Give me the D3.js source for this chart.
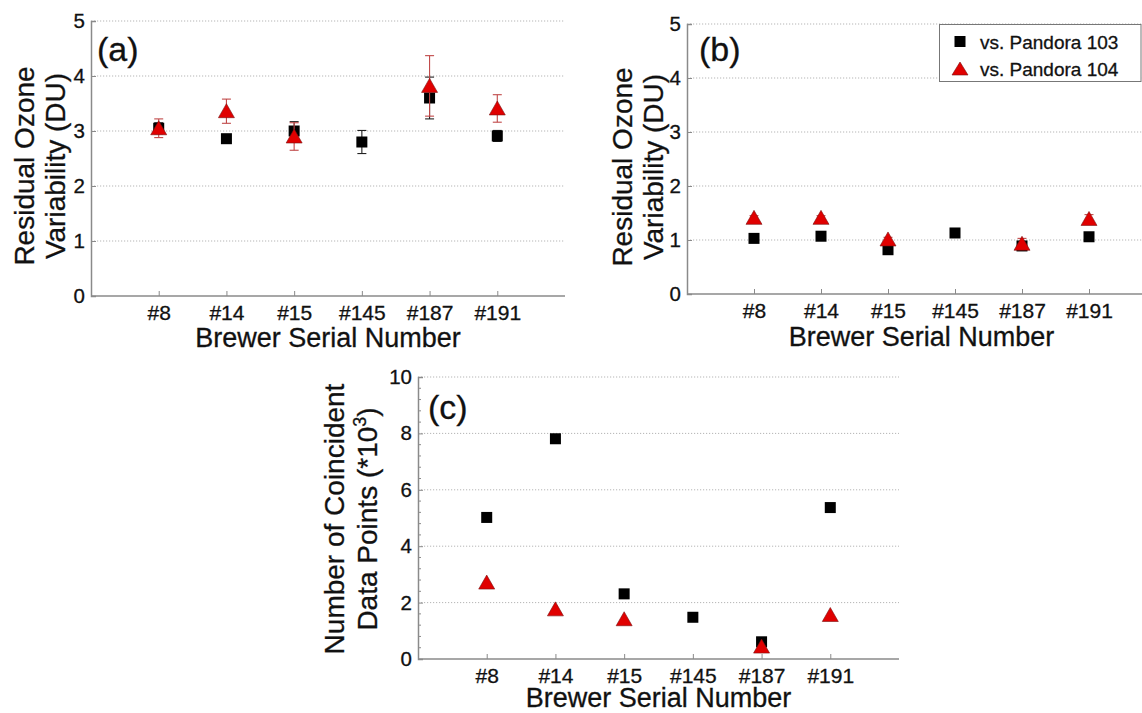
<!DOCTYPE html>
<html>
<head>
<meta charset="utf-8">
<script src="https://cdnjs.cloudflare.com/ajax/libs/d3/7.8.5/d3.min.js"></script>
<style>
html,body{margin:0;padding:0;background:#fff;}
svg{display:block;font-family:"Liberation Sans",Arial,Helvetica,sans-serif;}
svg text{stroke:#111;stroke-width:0.3px;}
</style>
</head>
<body>
<svg id="chart" width="1142" height="713"></svg>
<script>
// ---------- data ----------
const categories = ["#8", "#14", "#15", "#145", "#187", "#191"];
const seriesNames = ["vs. Pandora 103", "vs. Pandora 104"];

// panel (a) residual ozone variability (DU)
const a103 = [3.05, 2.86, 3.00, 2.80, 3.60, 2.91];
const a103Err = [0.10, 0.05, 0.17, 0.21, 0.38, 0.10];
const a104 = [3.05, 3.36, 2.90, null, 3.82, 3.41];
const a104Err = [0.17, 0.22, 0.25, null, 0.55, 0.25];

// panel (b) residual ozone variability (DU)
const b103 = [1.03, 1.07, 0.82, 1.13, 0.89, 1.06];
const b103Err = [0.03, 0.03, 0.03, 0.05, 0.04, 0.03];
const b104 = [1.41, 1.41, 1.01, null, 0.93, 1.39];
const b104Err = [0.04, 0.04, 0.04, null, 0.10, 0.08];

// panel (c) number of coincident data points (*10^3)
const c103 = [5.02, 7.81, 2.31, 1.48, 0.61, 5.37];
const c104 = [2.71, 1.76, 1.41, null, 0.44, 1.56];

const ticksDU = [0, 1, 2, 3, 4, 5];
const ticksN = [0, 2, 4, 6, 8, 10];

// ---------- drawing ----------
const svg = d3.select("#chart");
const AXIS = "#8a8a8a", GRID = "#b5b5b5", TXT = "#111";
const RED = "#e00000", REDERR = "#c04848";

function panel(cfg) {
  const g = svg.append("g");
  const x = d3.scalePoint().domain(categories).range([cfg.x0, cfg.x1]).padding(1);
  const y = d3.scaleLinear().domain(cfg.ydom).range([cfg.y0, cfg.y1]);

  // grid
  g.selectAll(".grid").data(cfg.ticks.filter(t => t !== 0)).join("line")
    .attr("x1", cfg.x0).attr("x2", cfg.x1)
    .attr("y1", d => y(d)).attr("y2", d => y(d))
    .attr("stroke", GRID).attr("stroke-width", 1).attr("stroke-dasharray", "1.2,1.8");

  // minor ticks
  if (cfg.minor) {
    g.selectAll(".minor").data(cfg.minor).join("line")
      .attr("x1", cfg.x0).attr("x2", cfg.x0 + 3)
      .attr("y1", d => y(d)).attr("y2", d => y(d))
      .attr("stroke", AXIS).attr("stroke-width", 1);
  }

  // y axis
  const ya = d3.axisLeft(y).tickValues(cfg.ticks).tickSize(-5).tickPadding(6).tickFormat(d3.format("d"));
  const yg = g.append("g").attr("transform", `translate(${cfg.x0},0)`).call(ya);
  yg.select(".domain").attr("stroke", AXIS).attr("stroke-width", 1.5);
  yg.selectAll(".tick line").attr("stroke", AXIS);
  yg.selectAll("text").attr("font-size", 20.5).attr("fill", TXT)
    .attr("font-family", "Liberation Sans, Arial, sans-serif");

  // x axis
  const xa = d3.axisBottom(x).tickSize(-5).tickPadding(9);
  const xg = g.append("g").attr("transform", `translate(0,${cfg.y0})`).call(xa);
  xg.select(".domain").attr("stroke", AXIS).attr("stroke-width", 1.5)
    .attr("d", `M${cfg.x0},0H${cfg.x1}`);
  xg.selectAll(".tick line").attr("stroke", AXIS);
  xg.selectAll("text").attr("font-size", 21).attr("fill", TXT)
    .attr("font-family", "Liberation Sans, Arial, sans-serif");

  // x title
  g.append("text").attr("x", (cfg.x0 + cfg.x1) / 2).attr("y", cfg.y0 + cfg.xtOff)
    .attr("text-anchor", "middle").attr("font-size", 27).attr("fill", TXT)
    .text("Brewer Serial Number");

  // y title (two lines)
  const yt = g.append("text").attr("transform", `translate(${cfg.ytx},${cfg.yty}) rotate(-90)`)
    .attr("text-anchor", "middle").attr("font-size", 28).attr("fill", TXT);
  yt.append("tspan").attr("x", 0).attr("y", 0).text(cfg.ytitle[0]);
  const l2 = yt.append("tspan").attr("x", 0).attr("y", cfg.ytGap).text(cfg.ytitle[1]);
  if (cfg.sup) {
    l2.append("tspan").attr("font-size", 18).attr("dy", -11).text("3");
    l2.append("tspan").attr("dy", 11).text(")");
  }

  // panel label
  g.append("text").attr("x", cfg.lx).attr("y", cfg.ly).attr("font-size", 34).attr("fill", TXT).text(cfg.label);

  const s103 = categories.map((c, i) => ({c, v: cfg.v103[i], e: cfg.e103 ? cfg.e103[i] : null})).filter(d => d.v != null);
  const s104 = categories.map((c, i) => ({c, v: cfg.v104[i], e: cfg.e104 ? cfg.e104[i] : null})).filter(d => d.v != null);

  function errbars(data, color) {
    const eb = g.append("g").attr("stroke", color).attr("stroke-width", 1.1);
    data.filter(d => d.e != null).forEach(d => {
      const cx = x(d.c), top = y(d.v + d.e), bot = y(d.v - d.e);
      eb.append("line").attr("x1", cx).attr("x2", cx).attr("y1", top).attr("y2", bot);
      eb.append("line").attr("x1", cx - 4.5).attr("x2", cx + 4.5).attr("y1", top).attr("y2", top);
      eb.append("line").attr("x1", cx - 4.5).attr("x2", cx + 4.5).attr("y1", bot).attr("y2", bot);
    });
  }
  errbars(s103, "#222");
  g.selectAll(".sq").data(s103).join("rect")
    .attr("x", d => x(d.c) - 5.5).attr("y", d => y(d.v) - 5.5)
    .attr("width", 11).attr("height", 11).attr("fill", "#000");
  errbars(s104, REDERR);
  g.selectAll(".tri").data(s104).join("path")
    .attr("d", d => { const cx = x(d.c), cy = y(d.v); return `M${cx},${cy - 7.5}L${cx + 8},${cy + 6.5}L${cx - 8},${cy + 6.5}Z`; })
    .attr("fill", RED).attr("stroke", "#7a1010").attr("stroke-width", 0.6);
  return {x, y};
}

panel({x0: 91, x1: 565, y0: 296, y1: 21, ydom: [0, 5], ticks: ticksDU,
  v103: a103, e103: a103Err, v104: a104, e104: a104Err, xtOff: 51,
  ytitle: ["Residual Ozone", "Variability (DU)"], ytx: 34, yty: 166, ytGap: 31,
  label: "(a)", lx: 97, ly: 61});

panel({x0: 687, x1: 1156, y0: 294, y1: 24, ydom: [0, 5], ticks: ticksDU,
  v103: b103, e103: b103Err, v104: b104, e104: b104Err, xtOff: 52,
  ytitle: ["Residual Ozone", "Variability (DU)"], ytx: 632, yty: 167, ytGap: 31,
  label: "(b)", lx: 699, ly: 61});

panel({x0: 418, x1: 899, y0: 659, y1: 377, ydom: [0, 10], ticks: ticksN,
  minor: d3.range(0, 10.01, 0.4).filter(v => Math.abs(v / 2 - Math.round(v / 2)) > 0.01),
  v103: c103, e103: null, v104: c104, e104: null, xtOff: 47.5,
  ytitle: ["Number of Coincident", "Data Points (*10"], ytx: 344, yty: 519, ytGap: 33, sup: true,
  label: "(c)", lx: 428, ly: 419});

// legend (panel b)
const lg = svg.append("g");
lg.append("rect").attr("x", 939.5).attr("y", 24.5).attr("width", 201.5).attr("height", 57)
  .attr("fill", "#fff").attr("stroke", "#777").attr("stroke-width", 1);
lg.append("rect").attr("x", 954.5).attr("y", 36).attr("width", 11).attr("height", 11).attr("fill", "#000");
lg.append("path").attr("d", "M960,62L968,75L952,75Z").attr("fill", RED).attr("stroke", "#7a1010").attr("stroke-width", 0.6);
lg.selectAll(".lt").data(seriesNames).join("text")
  .attr("x", 980).attr("y", (d, i) => 48.5 + i * 27)
  .attr("font-size", 19).attr("fill", TXT).text(d => d);
</script>
</body>
</html>
